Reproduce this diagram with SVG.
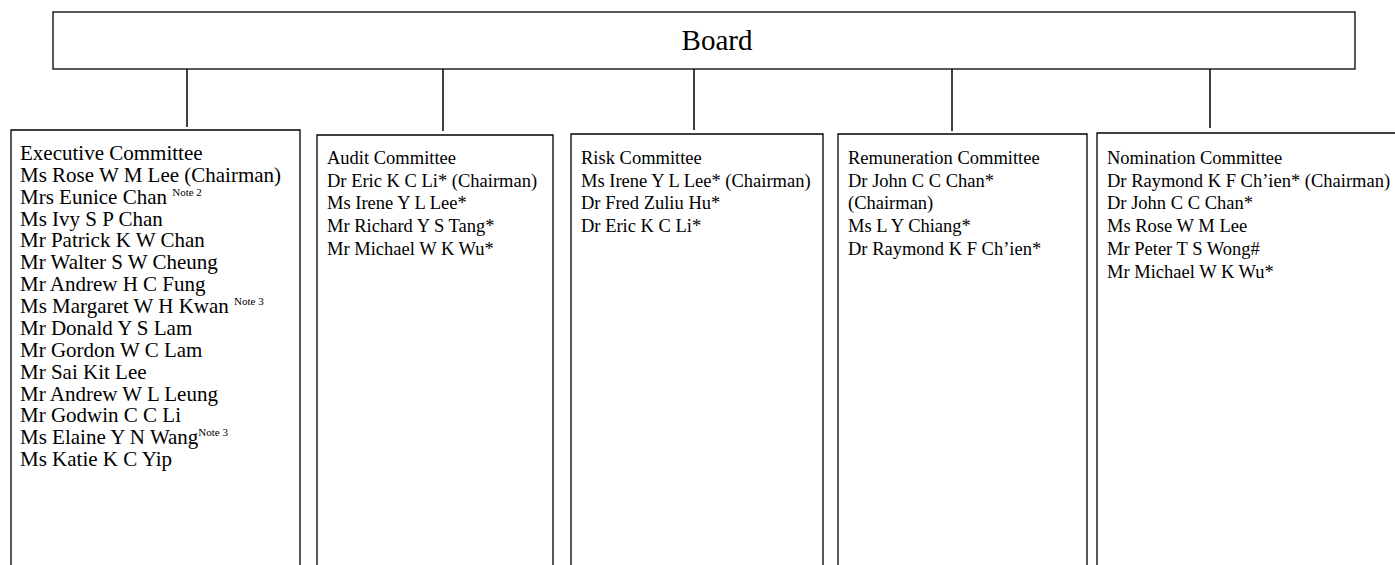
<svg xmlns="http://www.w3.org/2000/svg" width="1395" height="565" viewBox="0 0 1395 565">
<style>
  .box { fill: #ffffff; stroke: #000000; stroke-width: 1.3; }
  .conn { stroke: #000000; stroke-width: 1.5; fill: none; }
  .t { font-family: "Liberation Serif", "Times New Roman", serif; fill: #000000; }
  .board { font-size: 29px; }
  .exec { font-size: 21px; }
  .com { font-size: 18.5px; }
  .sup { font-size: 11px; }
</style>
<rect x="0" y="0" width="1395" height="565" fill="#ffffff"/>
<g id="connectors">
  <line class="conn" x1="187" y1="69" x2="187" y2="127"/>
  <line class="conn" x1="443" y1="69" x2="443" y2="131"/>
  <line class="conn" x1="694" y1="69" x2="694" y2="130"/>
  <line class="conn" x1="952" y1="69" x2="952" y2="131"/>
  <line class="conn" x1="1210" y1="69" x2="1210" y2="128"/>
</g>
<g id="board">
  <rect class="box" x="53" y="12" width="1302" height="57"/>
  <text class="t board" x="717" y="50" text-anchor="middle">Board</text>
</g>
<g id="executive">
  <path class="box" d="M11,570 V130 H300 V570"/>
  <text class="t exec" x="20">
    <tspan x="20" y="160">Executive Committee</tspan>
    <tspan x="20" y="181.9">Ms Rose W M Lee (Chairman)</tspan>
    <tspan x="20" y="203.7">Mrs Eunice Chan <tspan class="sup" dy="-8">Note 2</tspan></tspan>
    <tspan x="20" y="225.6">Ms Ivy S P Chan</tspan>
    <tspan x="20" y="247.4">Mr Patrick K W Chan</tspan>
    <tspan x="20" y="269.3">Mr Walter S W Cheung</tspan>
    <tspan x="20" y="291.2">Mr Andrew H C Fung</tspan>
    <tspan x="20" y="313">Ms Margaret W H Kwan <tspan class="sup" dy="-8">Note 3</tspan></tspan>
    <tspan x="20" y="334.9">Mr Donald Y S Lam</tspan>
    <tspan x="20" y="356.7">Mr Gordon W C Lam</tspan>
    <tspan x="20" y="378.6">Mr Sai Kit Lee</tspan>
    <tspan x="20" y="400.5">Mr Andrew W L Leung</tspan>
    <tspan x="20" y="422.3">Mr Godwin C C Li</tspan>
    <tspan x="20" y="444.2">Ms Elaine Y N Wang<tspan class="sup" dy="-8">Note 3</tspan></tspan>
    <tspan x="20" y="466">Ms Katie K C Yip</tspan>
  </text>
</g>
<g id="audit">
  <path class="box" d="M317,570 V135 H553 V570"/>
  <text class="t com">
    <tspan x="327" y="164">Audit Committee</tspan>
    <tspan x="327" y="186.7">Dr Eric K C Li* (Chairman)</tspan>
    <tspan x="327" y="209.4">Ms Irene Y L Lee*</tspan>
    <tspan x="327" y="232.1">Mr Richard Y S Tang*</tspan>
    <tspan x="327" y="254.8">Mr Michael W K Wu*</tspan>
  </text>
</g>
<g id="risk">
  <path class="box" d="M571,570 V134 H823 V570"/>
  <text class="t com">
    <tspan x="581" y="164">Risk Committee</tspan>
    <tspan x="581" y="186.7">Ms Irene Y L Lee* (Chairman)</tspan>
    <tspan x="581" y="209.4">Dr Fred Zuliu Hu*</tspan>
    <tspan x="581" y="232.1">Dr Eric K C Li*</tspan>
  </text>
</g>
<g id="remuneration">
  <path class="box" d="M838,570 V134 H1087 V570"/>
  <text class="t com">
    <tspan x="848" y="164">Remuneration Committee</tspan>
    <tspan x="848" y="186.7">Dr John C C Chan*</tspan>
    <tspan x="848" y="209.4">(Chairman)</tspan>
    <tspan x="848" y="232.1">Ms L Y Chiang*</tspan>
    <tspan x="848" y="254.8">Dr Raymond K F Ch’ien*</tspan>
  </text>
</g>
<g id="nomination">
  <path class="box" d="M1097,570 V133 H1400"/>
  <text class="t com">
    <tspan x="1107" y="164">Nomination Committee</tspan>
    <tspan x="1107" y="186.7">Dr Raymond K F Ch’ien* (Chairman)</tspan>
    <tspan x="1107" y="209.4">Dr John C C Chan*</tspan>
    <tspan x="1107" y="232.1">Ms Rose W M Lee</tspan>
    <tspan x="1107" y="254.8">Mr Peter T S Wong#</tspan>
    <tspan x="1107" y="277.5">Mr Michael W K Wu*</tspan>
  </text>
</g>
</svg>
